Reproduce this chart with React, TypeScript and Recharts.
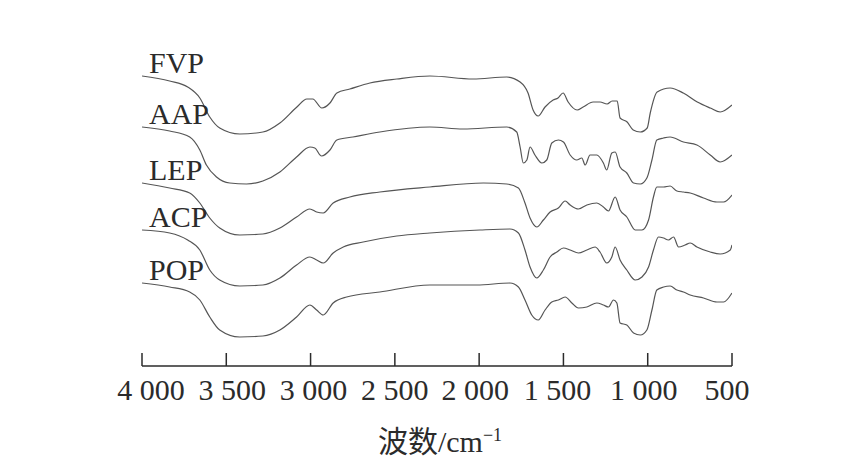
import React from 'react';
import { LineChart, Line, XAxis, YAxis } from 'recharts';

// FTIR spectra, wavenumber (cm-1) vs relative transmittance (offset per sample)
const xTicks = [4000, 3500, 3000, 2500, 2000, 1500, 1000, 500];
const sampleNames = ['FVP', 'AAP', 'LEP', 'ACP', 'POP'];

const fvpWn = [4000, 3836, 3729, 3657, 3598, 3539, 3420, 3283, 3182, 3081, 3022, 2987, 2933, 2885, 2844, 2767, 2648, 2488, 2292, 2036, 1836, 1757, 1710, 1680, 1650, 1609, 1561, 1532, 1502, 1472, 1419, 1383, 1324, 1283, 1241, 1211, 1181, 1164, 1122, 1086, 1044, 1003, 985, 944, 867, 789, 706, 629, 570, 500];
const fvpT = [290, 285, 279, 268, 249, 238, 232, 234, 243, 259, 267, 267, 258, 263, 273, 277, 283, 287, 290, 287, 289, 284, 273, 256, 250, 259, 266, 268, 273, 264, 256, 259, 264, 264, 262, 265, 265, 248, 244, 236, 234, 238, 253, 274, 278, 273, 264, 258, 254, 261];

const aapWn = [4000, 3836, 3717, 3657, 3618, 3558, 3479, 3380, 3283, 3182, 3083, 3004, 2975, 2935, 2885, 2844, 2749, 2589, 2292, 2096, 1836, 1777, 1757, 1738, 1717, 1698, 1669, 1628, 1599, 1569, 1530, 1500, 1460, 1421, 1391, 1371, 1342, 1302, 1263, 1243, 1213, 1193, 1164, 1124, 1084, 1044, 1005, 975, 946, 906, 867, 788, 708, 629, 570, 500];
const aapT = [239, 235, 229, 216, 201, 189, 183, 182, 185, 194, 209, 219, 218, 210, 216, 226, 229, 234, 239, 237, 239, 234, 219, 203, 206, 219, 211, 203, 206, 223, 226, 224, 211, 206, 208, 201, 211, 211, 203, 196, 213, 214, 199, 193, 183, 182, 188, 206, 226, 228, 229, 224, 221, 211, 204, 211];

const lepWn = [4000, 3836, 3717, 3657, 3598, 3539, 3420, 3283, 3182, 3083, 3004, 2964, 2925, 2866, 2767, 2589, 2292, 1975, 1836, 1767, 1728, 1698, 1658, 1619, 1579, 1530, 1490, 1460, 1411, 1361, 1302, 1263, 1233, 1193, 1164, 1124, 1074, 1034, 995, 966, 946, 906, 867, 827, 788, 748, 669, 589, 550, 500];
const lepT = [183, 178, 173, 163, 148, 138, 131, 132, 138, 149, 157, 154, 153, 163, 169, 174, 179, 183, 182, 178, 163, 148, 139, 146, 154, 158, 165, 161, 157, 161, 163, 159, 155, 169, 156, 149, 136, 136, 146, 169, 179, 179, 180, 175, 174, 173, 168, 164, 164, 171];

const acpWn = [4000, 3836, 3729, 3657, 3598, 3539, 3420, 3283, 3182, 3083, 3004, 2964, 2925, 2866, 2806, 2688, 2489, 2292, 1995, 1817, 1767, 1728, 1698, 1658, 1619, 1579, 1539, 1500, 1460, 1411, 1361, 1312, 1283, 1243, 1213, 1193, 1164, 1124, 1074, 1034, 995, 966, 936, 906, 877, 847, 817, 778, 748, 708, 629, 570, 510, 500];
const acpT = [136, 133, 126, 116, 96, 86, 80, 81, 88, 101, 109, 106, 103, 113, 119, 124, 130, 133, 136, 137, 133, 116, 99, 88, 96, 109, 114, 118, 116, 113, 116, 119, 114, 103, 109, 119, 106, 96, 86, 89, 99, 116, 129, 128, 126, 129, 119, 121, 123, 119, 114, 112, 116, 121];

const popWn = [4000, 3836, 3717, 3657, 3598, 3539, 3420, 3283, 3182, 3083, 3004, 2964, 2925, 2866, 2786, 2589, 2292, 2014, 1817, 1767, 1728, 1688, 1649, 1609, 1569, 1530, 1490, 1450, 1411, 1361, 1302, 1263, 1233, 1203, 1183, 1164, 1124, 1084, 1044, 1005, 975, 946, 906, 867, 827, 788, 748, 669, 589, 550, 500];
const popT = [83, 79, 74, 66, 49, 36, 29, 30, 36, 49, 61, 56, 51, 63, 69, 74, 81, 81, 83, 79, 66, 51, 46, 56, 64, 66, 69, 63, 58, 59, 63, 61, 59, 66, 63, 43, 41, 33, 31, 36, 56, 76, 79, 80, 76, 74, 71, 68, 64, 64, 73];

const toPoints = (wn: number[], t: number[]) => wn.map((w, i) => ({ wn: w, t: t[i] }));

const series = [
  toPoints(fvpWn, fvpT),
  toPoints(aapWn, aapT),
  toPoints(lepWn, lepT),
  toPoints(acpWn, acpT),
  toPoints(popWn, popT),
];

const SERIF = '"Liberation Serif", "Times New Roman", "Noto Sans CJK SC", serif';
const INK = '#2b2b2b';
const CURVE = '#555555';
// small horizontal nudges so tick labels sit like in the printed figure
const TICK_NUDGE = [9, 6, 3, 0, -4, -6, -4, -5];

const WaveTick = (props: any) => {
  const { x, y, payload, index } = props;
  return (
    <g>
      <line x1={x} x2={x} y1={y} y2={y - 13} stroke={INK} strokeWidth={1.5} />
      <text
        x={x + (TICK_NUDGE[index] ?? 0)}
        y={y + 34}
        textAnchor="middle"
        fontFamily={SERIF}
        fontSize={30}
        fill={INK}
      >
        {payload.value.toLocaleString('fr-FR').replace(/\u202f|\u00a0/g, ' ')}
      </text>
    </g>
  );
};

const AxisTitle = (props: any) => {
  const { viewBox } = props;
  const cx = viewBox.x + viewBox.width / 2 + 3;
  return (
    <text x={cx} y={viewBox.y + 86} textAnchor="middle" fontFamily={SERIF} fontSize={30} fill={INK}>
      <tspan>波数/cm</tspan>
      <tspan dy={-11} fontSize={18}>−1</tspan>
    </text>
  );
};

const nameLabel = (name: string) => (props: any) => {
  const { x, y, index } = props;
  if (index !== 0) return null;
  return (
    <text x={x + 7} y={y - 3} fontFamily={SERIF} fontSize={30} fill={INK}>
      {name}
    </text>
  );
};

export default function App() {
  return (
    <div style={{ position: 'absolute', top: 0, left: 0, width: 852, height: 474, background: '#fff' }}>
      <LineChart width={852} height={474} margin={{ top: 40, right: 120, left: 142, bottom: 48 }}>
        <XAxis
          type="number"
          dataKey="wn"
          domain={[500, 4000]}
          reversed
          allowDataOverflow
          ticks={xTicks}
          interval={0}
          height={60}
          tickSize={0}
          tickMargin={0}
          tickLine={false}
          tick={<WaveTick />}
          axisLine={{ stroke: INK, strokeWidth: 1.5 }}
          label={<AxisTitle />}
        />
        <YAxis type="number" domain={[0, 326]} hide width={0} />
        {series.map((pts, i) => (
          <Line
            key={sampleNames[i]}
            data={pts}
            dataKey="t"
            type="monotone"
            stroke={CURVE}
            strokeWidth={1.2}
            dot={false}
            isAnimationActive={false}
            label={nameLabel(sampleNames[i])}
          />
        ))}
      </LineChart>
    </div>
  );
}
